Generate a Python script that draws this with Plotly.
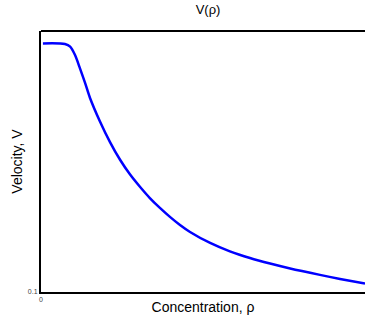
import plotly.graph_objects as go

rho = [0.006, 0.074, 0.090, 0.105, 0.120, 0.136, 0.151, 0.182, 0.213, 0.244, 0.275,
       0.306, 0.336, 0.367, 0.398, 0.429, 0.460, 0.522, 0.583, 0.645, 0.707, 0.769,
       0.861, 0.923, 1.0]
V = [0.957, 0.955, 0.946, 0.917, 0.872, 0.821, 0.770, 0.688, 0.617, 0.556, 0.505,
     0.462, 0.424, 0.390, 0.359, 0.331, 0.307, 0.269, 0.240, 0.217, 0.198, 0.181,
     0.159, 0.145, 0.129]

fig = go.Figure()
fig.add_trace(go.Scatter(x=rho, y=V, mode="lines",
                         line=dict(color="#0000ff", width=2.5, shape="spline", smoothing=0.8),
                         showlegend=False, hoverinfo="skip"))

fig.update_layout(
    width=365, height=322,
    margin=dict(l=41, r=0, t=31, b=30),
    paper_bgcolor="white", plot_bgcolor="white",
    font=dict(family="Liberation Sans, Arial, sans-serif", color="black"),
    title=dict(text="V(ρ)", x=0.57, xanchor="center", y=1 - 9/322, yanchor="middle",
               font=dict(size=13, color="black")),
    xaxis=dict(range=[0, 1], showgrid=False, zeroline=False, showline=True, linecolor="black", linewidth=2,
               tickvals=[0], ticktext=["0"], ticks="", tickfont=dict(size=7, color="#444"),
               title=dict(text="Concentration, ρ", font=dict(size=14, color="black"), standoff=0)),
    yaxis=dict(range=[0.1, 1.0], showgrid=False, zeroline=False, showline=True, linecolor="black", linewidth=2,
               tickvals=[0.1], ticktext=["0.1"], ticks="", tickfont=dict(size=7, color="#444"),
               title=dict(text="Velocity, V", font=dict(size=14, color="black"), standoff=2)),
    shapes=[dict(type="line", xref="paper", yref="paper", x0=0, x1=1, y0=1, y1=1,
                 line=dict(color="black", width=2))],
)

fig.write_html("out.html")
